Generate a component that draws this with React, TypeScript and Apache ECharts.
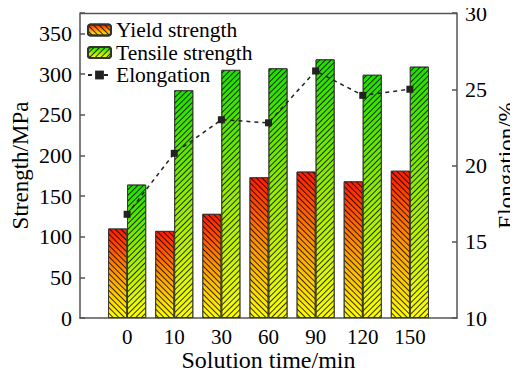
import React, { useEffect, useRef } from "react";
import * as echarts from "echarts";

const categories = ["", "0", "10", "30", "60", "90", "120", "150", ""];
const yieldStrength = [null, 110, 107, 128, 173, 180, 168, 181, null];
const tensileStrength = [null, 164, 280, 305, 307, 318, 299, 309, null];
const elongation = [null, 16.8, 20.8, 23.0, 22.8, 26.2, 24.6, 25.0, null];

const FONT = "'Liberation Serif', 'Times New Roman', serif";

export default function App() {
  const ref = useRef<HTMLDivElement>(null);
  useEffect(() => {
    const chart = echarts.init(ref.current!, null, { renderer: "svg" });
    const yieldGrad = new echarts.graphic.LinearGradient(0, 0, 0, 1, [
      { offset: 0, color: "#ff1a00" },
      { offset: 0.5, color: "#ff9900" },
      { offset: 1, color: "#ffff00" },
    ]);
    const tensGrad = new echarts.graphic.LinearGradient(0, 0, 0, 1, [
      { offset: 0, color: "#1ee000" },
      { offset: 0.5, color: "#99ee00" },
      { offset: 1, color: "#ffff00" },
    ]);
    const decalBase = {
      symbol: "rect",
      symbolSize: 1,
      dashArrayX: [1, 0],
      dashArrayY: [1, 2.7],
      color: "rgba(0,0,0,0.8)",
    };
    const axisLine = { show: true, lineStyle: { color: "#555", width: 1.5 } };
    const tick = { show: true, inside: true, length: 5, lineStyle: { color: "#555", width: 1.5 } };
    chart.setOption({
      animation: false,
      textStyle: { fontFamily: FONT },
      grid: { left: 80, right: 61, top: 13, bottom: 55, outerBoundsMode: "none", containLabel: false },
      legend: {
        orient: "vertical",
        left: 87,
        top: 19,
        padding: 0,
        itemWidth: 23,
        itemHeight: 11,
        itemGap: 0.5,
        textStyle: { fontFamily: FONT, fontSize: 21.5, color: "#000", lineHeight: 22 },
        data: ["Yield strength", "Tensile strength", "Elongation"],
      },
      xAxis: {
        type: "category",
        data: categories,
        boundaryGap: false,
        name: "Solution time/min",
        nameLocation: "middle",
        nameGap: 30,
        nameMoveOverlap: false,
        nameTextStyle: { fontFamily: FONT, fontSize: 24, color: "#000" },
        axisLine: axisLine,
        axisTick: { show: false },
        axisLabel: { fontFamily: FONT, fontSize: 21, color: "#000", margin: 8, interval: 0 },
        splitLine: { show: false },
      },
      yAxis: [
        {
          type: "value",
          min: 0,
          max: 375,
          interval: 50,
          name: "Strength/MPa",
          nameLocation: "middle",
          nameRotate: 90,
          nameGap: 48,
          nameMoveOverlap: false,
          nameTextStyle: { fontFamily: FONT, fontSize: 23, color: "#000" },
          axisLine: axisLine,
          axisTick: tick,
          axisLabel: {
            fontFamily: FONT,
            fontSize: 22,
            color: "#000",
            margin: 8,
            formatter: (v: number) => (v % 50 === 0 && v <= 350 ? String(v) : ""),
          },
          splitLine: { show: false },
        },
        {
          type: "value",
          min: 10,
          max: 30,
          interval: 5,
          position: "right",
          name: "Elongation/%",
          nameLocation: "middle",
          nameRotate: 90,
          nameGap: 38,
          nameMoveOverlap: false,
          nameTextStyle: { fontFamily: FONT, fontSize: 23, color: "#000" },
          axisLine: axisLine,
          axisTick: tick,
          axisLabel: { fontFamily: FONT, fontSize: 22, color: "#000", margin: 8 },
          splitLine: { show: false },
        },
      ],
      graphic: [
        {
          type: "line",
          shape: { x1: 80, y1: 13.5, x2: 457, y2: 13.5 },
          style: { stroke: "#555", lineWidth: 1.5 },
          silent: true,
        },
      ],
      series: [
        {
          name: "Yield strength",
          type: "bar",
          data: yieldStrength,
          barWidth: 19,
          barGap: "0%",
          itemStyle: {
            color: yieldGrad,
            borderColor: "#333",
            borderWidth: 0.8,
            decal: { ...decalBase, rotation: Math.PI / 4 },
          },
        },
        {
          name: "Tensile strength",
          type: "bar",
          data: tensileStrength,
          barWidth: 19,
          barGap: "0%",
          itemStyle: {
            color: tensGrad,
            borderColor: "#333",
            borderWidth: 0.8,
            decal: { ...decalBase, rotation: -Math.PI / 4 },
          },
        },
        {
          name: "Elongation",
          type: "line",
          yAxisIndex: 1,
          data: elongation,
          symbol: "rect",
          symbolSize: 7,
          connectNulls: false,
          lineStyle: { color: "#222", width: 1.5, type: [4, 4] },
          itemStyle: { color: "#222" },
          z: 5,
        },
      ],
    });
    return () => chart.dispose();
  }, []);
  return <div ref={ref} style={{ width: 518, height: 373, marginLeft: -8, marginTop: -8 }} />;
}
